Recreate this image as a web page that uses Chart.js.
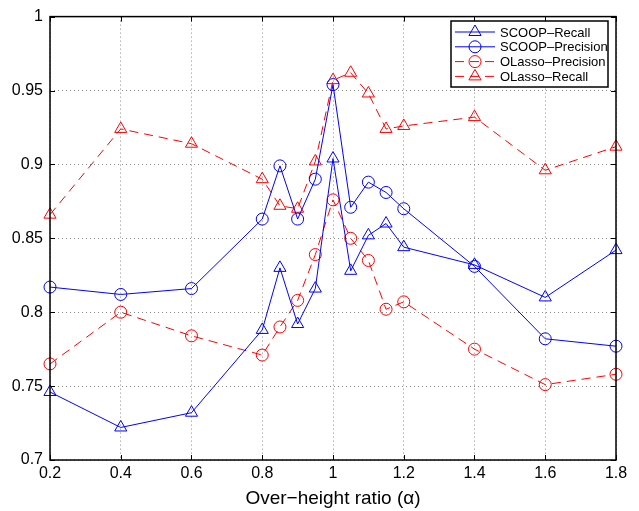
<!DOCTYPE html>
<html>
<head>
<meta charset="utf-8">
<script src="https://cdn.jsdelivr.net/npm/chart.js@4"></script>
<style>
  html, body { margin: 0; padding: 0; background: #fff; }
  #wrap { width: 639px; height: 511px; }
</style>
</head>
<body>
<div id="wrap"><canvas id="grafico" width="639" height="511"></canvas></div>
<script>
// dados
const alphas = [0.2, 0.4, 0.6, 0.8, 0.85, 0.9, 0.95, 1.0, 1.05, 1.1, 1.15, 1.2, 1.4, 1.6, 1.8];
const scoopRecall = [0.746, 0.722, 0.732, 0.788, 0.830, 0.792, 0.816, 0.904, 0.828, 0.852, 0.860, 0.844, 0.832, 0.810, 0.842];
const scoopPrecision = [0.817, 0.812, 0.816, 0.863, 0.899, 0.863, 0.890, 0.954, 0.871, 0.888, 0.881, 0.870, 0.831, 0.782, 0.777];
const olassoPrecision = [0.765, 0.800, 0.784, 0.771, 0.790, 0.808, 0.839, 0.876, 0.850, 0.835, 0.802, 0.807, 0.775, 0.751, 0.758];
const olassoRecall = [0.866, 0.924, 0.914, 0.890, 0.872, 0.870, 0.902, 0.957, 0.962, 0.948, 0.924, 0.926, 0.932, 0.896, 0.912];

const xTicks = [0.2, 0.4, 0.6, 0.8, 1.0, 1.2, 1.4, 1.6, 1.8];
const xTickLabels = ["0.2", "0.4", "0.6", "0.8", "1", "1.2", "1.4", "1.6", "1.8"];
const yTicks = [0.7, 0.75, 0.8, 0.85, 0.9, 0.95, 1.0];
const yTickLabels = ["0.7", "0.75", "0.8", "0.85", "0.9", "0.95", "1"];

const AZUL = "#0000ff";
const VERMELHO = "#ff0000";
const FONTE = "'Liberation Sans', Arial, Helvetica, sans-serif";

function pontos(valores) {
  return alphas.map((x, i) => ({ x: x, y: valores[i] }));
}

function serie(label, valores, cor, marcador, tracejado) {
  return {
    label: label,
    data: pontos(valores),
    borderColor: cor,
    borderWidth: 1,
    borderDash: tracejado ? [9, 6] : [],
    pointStyle: marcador,
    pointRadius: marcador === "triangle" ? 7 : 6,
    pointBorderWidth: 1,
    pointBorderColor: cor,
    pointBackgroundColor: "rgba(0,0,0,0)",
    tension: 0,
    fill: false,
    clip: false
  };
}

const datasets = [
  serie("SCOOP\u2013Recall", scoopRecall, AZUL, "triangle", false),
  serie("SCOOP\u2013Precision", scoopPrecision, AZUL, "circle", false),
  serie("OLasso\u2013Precision", olassoPrecision, VERMELHO, "circle", true),
  serie("OLasso\u2013Recall", olassoRecall, VERMELHO, "triangle", true)
];

// caixa, ticks para dentro e legenda estilo matlab
const moldura = {
  id: "moldura",
  afterDatasetsDraw(chart) {
    const { ctx, chartArea: a } = chart;
    const sx = chart.scales.x, sy = chart.scales.y;
    ctx.save();
    ctx.strokeStyle = "#000";
    ctx.lineWidth = 1;
    ctx.setLineDash([]);
    ctx.beginPath();
    xTicks.forEach(v => {
      const px = Math.round(sx.getPixelForValue(v)) + 0.5;
      ctx.moveTo(px, a.bottom); ctx.lineTo(px, a.bottom - 5);
      ctx.moveTo(px, a.top); ctx.lineTo(px, a.top + 5);
    });
    yTicks.forEach(v => {
      const py = Math.round(sy.getPixelForValue(v)) + 0.5;
      ctx.moveTo(a.left, py); ctx.lineTo(a.left + 5, py);
      ctx.moveTo(a.right, py); ctx.lineTo(a.right - 5, py);
    });
    ctx.stroke();
    ctx.lineWidth = 1.5;
    ctx.strokeRect(a.left, a.top, a.right - a.left, a.bottom - a.top);

    // legenda
    const lx = 451, ly = 21, lw = 157, lh = 66;
    ctx.fillStyle = "#fff";
    ctx.fillRect(lx, ly, lw, lh);
    ctx.lineWidth = 1.5;
    ctx.strokeStyle = "#000";
    ctx.strokeRect(lx, ly, lw, lh);
    ctx.font = "13px " + FONTE;
    ctx.textBaseline = "middle";
    ctx.textAlign = "left";
    chart.data.datasets.forEach((ds, i) => {
      const y = ly + 11 + i * 14.8;
      ctx.strokeStyle = ds.borderColor;
      ctx.lineWidth = 1;
      ctx.setLineDash(ds.borderDash);
      ctx.beginPath();
      ctx.moveTo(lx + 4, y); ctx.lineTo(lx + 44, y);
      ctx.stroke();
      ctx.setLineDash([]);
      ctx.fillStyle = "rgba(0,0,0,0)";
      Chart.helpers.drawPoint(ctx, {
        pointStyle: ds.pointStyle,
        radius: ds.pointRadius,
        rotation: 0,
        borderWidth: 1
      }, lx + 24, y);
      ctx.fillStyle = "#000";
      ctx.fillText(ds.label, lx + 49, y + 1);
    });
    ctx.restore();
  }
};

new Chart(document.getElementById("grafico"), {
  type: "line",
  data: { datasets: datasets },
  options: {
    responsive: false,
    animation: false,
    events: [],
    layout: { padding: { top: 15, right: 23, left: 0, bottom: 0 } },
    plugins: {
      legend: { display: false },
      tooltip: { enabled: false }
    },
    scales: {
      x: {
        type: "linear",
        min: 0.2,
        max: 1.8,
        afterBuildTicks: s => { s.ticks = xTicks.map(v => ({ value: v })); },
        afterFit: s => { s.height = 51; },
        grid: { color: "#888", lineWidth: 1, drawTicks: false },
        border: { display: false, dash: [1, 3] },
        ticks: {
          color: "#000",
          padding: 4,
          maxRotation: 0,
          font: { family: FONTE, size: 16 },
          callback: (v) => xTickLabels[xTicks.findIndex(t => Math.abs(t - v) < 1e-6)]
        },
        title: {
          display: true,
          text: "Over\u2212height ratio (\u03b1)",
          color: "#000",
          font: { family: FONTE, size: 19 },
          padding: { top: 0, bottom: 1 }
        }
      },
      y: {
        type: "linear",
        min: 0.7,
        max: 1.0,
        afterBuildTicks: s => { s.ticks = yTicks.map(v => ({ value: v })); },
        afterFit: s => { s.width = 50; },
        grid: { color: "#888", lineWidth: 1, drawTicks: false },
        border: { display: false, dash: [1, 3] },
        ticks: {
          color: "#000",
          padding: 7,
          font: { family: FONTE, size: 16 },
          callback: (v) => yTickLabels[yTicks.findIndex(t => Math.abs(t - v) < 1e-6)]
        }
      }
    }
  },
  plugins: [moldura]
});
</script>
</body>
</html>
